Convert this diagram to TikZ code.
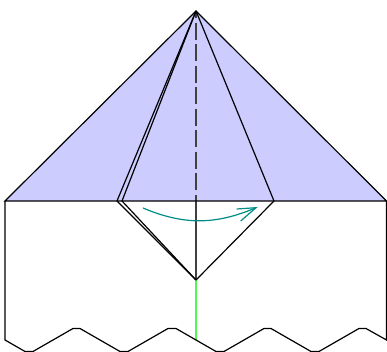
\documentclass[tikz,border=0pt]{standalone}
\usepackage{amsmath}
\definecolor{paperblue}{RGB}{204,204,255}
\definecolor{foldteal}{RGB}{0,140,135}
\definecolor{foldgreen}{RGB}{85,245,85}
\tikzstyle{pedge}=[line width=0.9pt,black,line join=miter]
\tikzstyle{pvalley}=[line width=1.3pt,black!75,dash pattern=on 12.75pt off 3.4pt,dash phase=7.5pt]
\tikzstyle{pcrease}=[line width=1.2pt,black!75]
\tikzstyle{pgreen}=[line width=1.3pt,foldgreen]
\tikzstyle{pturn}=[line width=0.9pt,foldteal]

\begin{document}
\begin{tikzpicture}[x=0.75pt,y=-0.75pt]
\useasboundingbox (0,0) rectangle (387,352);
\coordinate (T) at (196,11);
\coordinate (L) at (5,201);
\coordinate (R) at (386.5,201);
\coordinate (C) at (196,201);
\coordinate (O) at (117,201);
\coordinate (I) at (122,201);
\coordinate (K) at (274,201);
\coordinate (B) at (196,280);
\coordinate (G) at (196,340);
\coordinate (P) at (143,208);
\coordinate (Q) at (256,207.7);
\coordinate (Qa) at (236.7,209);
\coordinate (Qb) at (240.7,221);
\fill[paperblue] (T)--(L)--(R)--cycle;
\draw[pgreen] (B)--(G);
\draw[pvalley] (T)--(C);
\draw[pcrease] (C)--(B);
\draw[pedge] (L)--(5,340)--(25,351.5)--(33,351.5)--(73,328.5)--(80,328.5)--(120,351.5)--(128,351.5)--(168,328.5)--(176,328.5)--(G)
 --(216,351.5)--(224,351.5)--(264,328.5)--(271,328.5)--(311,351.5)--(319,351.5)--(359,328.5)--(366,328.5)--(386.5,340)--(R)--(T)--(L)--(R);
\draw[pedge] (T)--(O)--(B);
\draw[pedge] (T)--(I)--(B);
\draw[pedge] (T)--(K)--(B);
\draw[pturn] (P) to [bend right=23] (Q);
\draw[pturn] (Qa)--(Q)--(Qb);
\end{tikzpicture}
\end{document}
